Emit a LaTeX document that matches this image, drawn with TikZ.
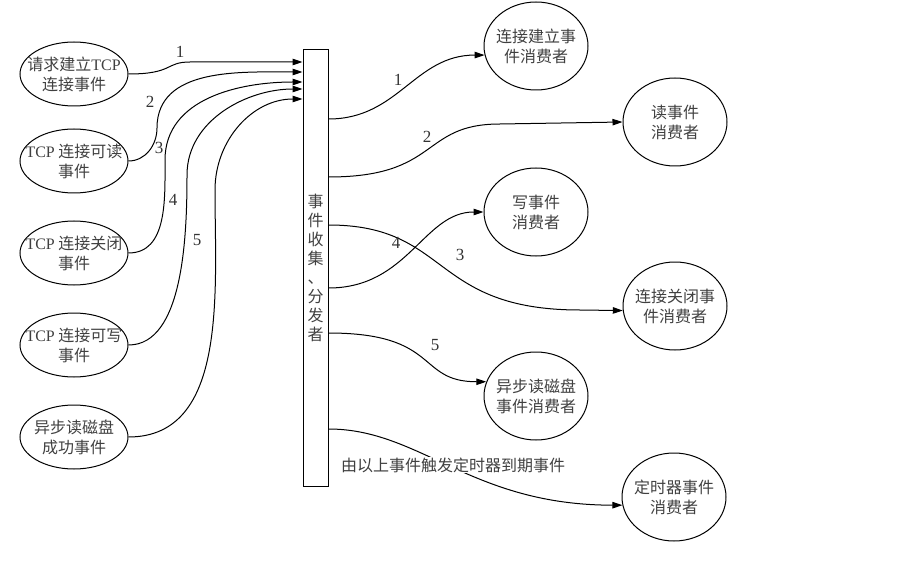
\documentclass[tikz,border=0pt]{standalone}
\usepackage{fontspec}
\setmainfont{Liberation Serif}
\newfontfamily\cjk{Noto Sans CJK SC}
\usetikzlibrary{shapes.geometric,arrows.meta}
\begin{document}
\begin{tikzpicture}[x=1pt,y=-1pt,
  source/.style={draw, line width=1pt, ellipse, minimum width=108pt, minimum height=64pt, inner sep=0pt},
  sink/.style={draw, line width=1pt, ellipse, minimum width=104pt, minimum height=88pt, inner sep=0pt},
  tag/.style={label={[align=center, text=black!75, font=\fontsize{16}{20}\cjk]center:#1}},
  flow/.style={draw, line width=1pt, -{Triangle[length=10pt,width=6.5pt]}},
  num/.style={text=black!80, font=\fontsize{17}{17}\selectfont, inner sep=0pt},
]
\useasboundingbox (0,0) rectangle (909,561);

% event sources
\node[source, tag={请求建立{\rmfamily TCP}\\连接事件}] (e1) at (74,74) {};
\node[source, tag={{\rmfamily TCP} 连接可读\\事件}] (e2) at (74,161) {};
\node[source, tag={{\rmfamily TCP} 连接关闭\\事件}] (e3) at (74,253) {};
\node[source, tag={{\rmfamily TCP} 连接可写\\事件}] (e4) at (74,345) {};
\node[source, tag={异步读磁盘\\成功事件}] (e5) at (74,437) {};

% collector / dispatcher bar
\node[draw, line width=1pt, minimum width=25pt, minimum height=436pt, inner sep=0pt,
      align=center, text=black!75, font=\fontsize{16}{19}\cjk] (hub) at (315.5,268)
      {事\\件\\收\\集\\、\\分\\发\\者};

% consumers
\node[sink, tag={连接建立事\\件消费者}] (r1) at (536,46) {};
\node[sink, tag={读事件\\消费者}] (r2) at (675,122) {};
\node[sink, tag={写事件\\消费者}] (r3) at (536,212) {};
\node[sink, tag={连接关闭事\\件消费者}] (r4) at (675,306) {};
\node[sink, tag={异步读磁盘\\事件消费者}] (r5) at (536,396) {};
\node[sink, tag={定时器事件\\消费者}] (r6) at (674,497) {};

% ports on the bar
\foreach \n/\y in {1/62,2/72,3/82,4/89,5/99}
  \coordinate (in\n) at (hub.west |- 0,\y);
\foreach \n/\y in {1/119,2/177,3/225,4/288,5/333,6/429}
  \coordinate (out\n) at (hub.east |- 0,\y);

% incoming events
\draw[flow] (e1.east) .. controls +(45,0) and +(-25,0) .. (190,62) -- (in1);
\draw[flow] (e2.east) .. controls +(17,0) and +(0,17) .. (157,128)
            .. controls +(0,-61) and +(-61,0) .. (in2);
\draw[flow] (e3.east) .. controls +(39,0) and +(0,39) .. (165,160)
            .. controls +(0,-62) and +(-62,0) .. (in3);
\draw[flow] (e4.east) .. controls +(55,0) and +(0,60) .. (187,175)
            .. controls +(0,-55) and +(-55,0) .. (in4);
\draw[flow] (e5.east) .. controls +(100,0) and +(0,100) .. (215,190)
            .. controls +(0,-50) and +(-50,0) .. (in5);

\node[num] (n1) at (180,52) {1};
\node[num] (n2) at (150,102) {2};
\node[num] (n3) at (159,148) {3};
\node[num] (n4) at (173,200) {4};
\node[num] (n5) at (197,240) {5};

% dispatched events
\draw[flow] (out1) .. controls +(70,0) and +(-70,0) .. (r1.190);
\draw[flow] (out2) .. controls +(112,0) and +(-80,0) .. (500,124) -- (r2.west);
\draw[flow] (out3) .. controls +(122,0) and +(-150,0) .. (580,310) -- (r4.185);
\draw[flow] (out4) .. controls +(80,0) and +(-60,0) .. (r3.west);
\draw[flow] (out5) .. controls +(112,0) and +(-70,0) .. (r5.164);
\draw[flow] (out6) .. controls +(92,0) and +(-152,0) .. (r6.189);

\node[num] (m1) at (398,80) {1};
\node[num] (m2) at (427,137) {2};
\node[num] (m3) at (460,255) {3};
\node[num] (m4) at (396,243) {4};
\node[num] (m5) at (435,345) {5};

\node[fill=white, inner sep=1pt, text=black!75, font=\fontsize{16}{20}\cjk] (note)
  at (453,465) {由以上事件触发定时器到期事件};
\end{tikzpicture}
\end{document}
